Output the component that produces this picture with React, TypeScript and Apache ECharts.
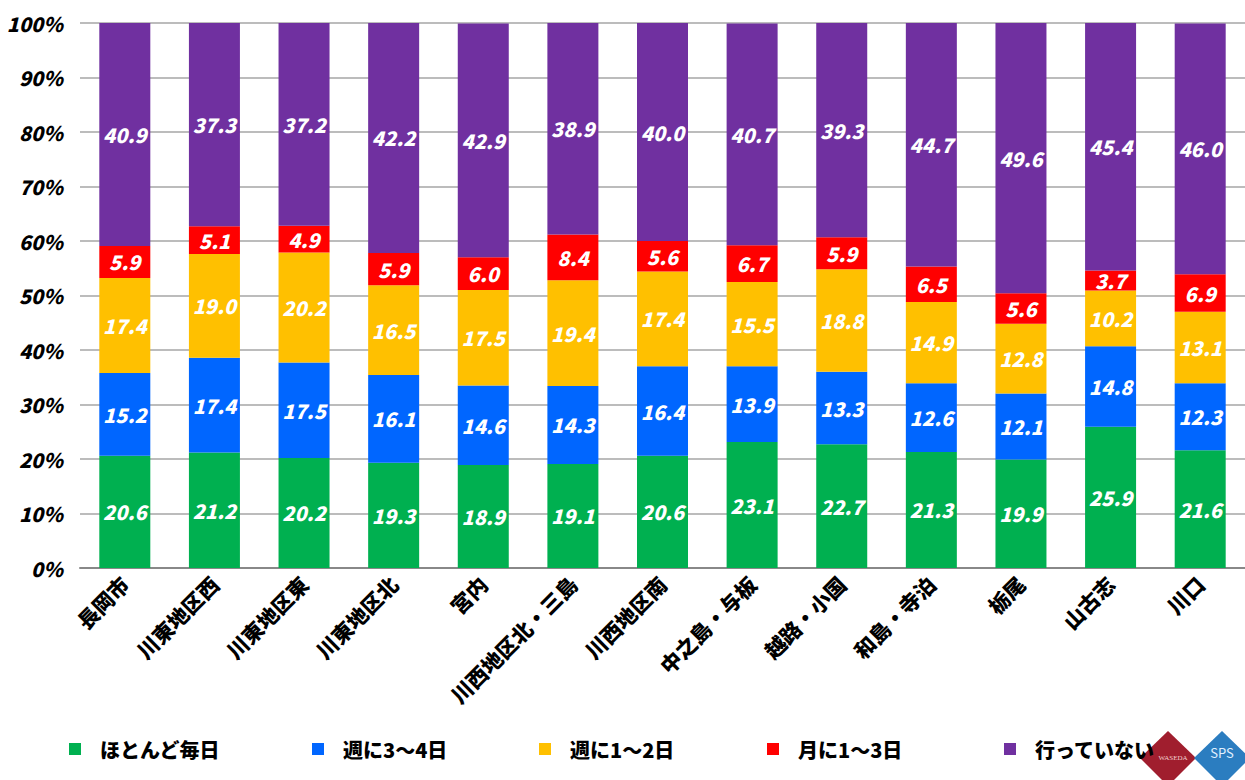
import React, { useEffect, useRef } from "react";
import * as echarts from "echarts";

const categories = [
  "長岡市", "川東地区西", "川東地区東", "川東地区北", "宮内", "川西地区北・三島",
  "川西地区南", "中之島・与板", "越路・小国", "和島・寺泊", "栃尾", "山古志", "川口",
];
const seriesNames = ["ほとんど毎日", "週に3～4日", "週に1～2日", "月に1～3日", "行っていない"];
const daily = [20.6, 21.2, 20.2, 19.3, 18.9, 19.1, 20.6, 23.1, 22.7, 21.3, 19.9, 25.9, 21.6];
const week34 = [15.2, 17.4, 17.5, 16.1, 14.6, 14.3, 16.4, 13.9, 13.3, 12.6, 12.1, 14.8, 12.3];
const week12 = [17.4, 19.0, 20.2, 16.5, 17.5, 19.4, 17.4, 15.5, 18.8, 14.9, 12.8, 10.2, 13.1];
const month13 = [5.9, 5.1, 4.9, 5.9, 6.0, 8.4, 5.6, 6.7, 5.9, 6.5, 5.6, 3.7, 6.9];
const never = [40.9, 37.3, 37.2, 42.2, 42.9, 38.9, 40.0, 40.7, 39.3, 44.7, 49.6, 45.4, 46.0];
const yTicks = { min: 0, max: 100, interval: 10 };

const colors = ["#00B050", "#0066FF", "#FFC000", "#FF0000", "#7030A0"];
const seriesData = [daily, week34, week12, month13, never];
const legendLefts = [64, 307, 534, 762, 999];
const FONT = "'Noto Sans CJK JP', 'Noto Sans', sans-serif";

export default function App() {
  const ref = useRef<HTMLDivElement>(null);
  useEffect(() => {
    document.body.style.margin = "0";
    const chart = echarts.init(ref.current!, null, { renderer: "svg" });
    chart.setOption({
      animation: false,
      textStyle: { fontFamily: FONT },
      grid: { left: 80, right: 0, top: 23, bottom: 212, containLabel: false },
      legend: seriesNames.map((n, i) => ({
        data: [n],
        left: legendLefts[i],
        top: 734,
        icon: "rect",
        itemWidth: 12,
        itemHeight: 12,
        selectedMode: false,
        textStyle: {
          fontFamily: FONT,
          fontSize: 20,
          fontWeight: 900,
          color: "#000",
          padding: [0, 0, 0, 14],
        },
      })),
      xAxis: {
        type: "category",
        data: categories,
        axisLine: { lineStyle: { color: "#888", width: 2 } },
        axisTick: { show: false },
        axisLabel: {
          interval: 0,
          rotate: 45,
          margin: 12,
          fontFamily: FONT,
          fontSize: 21,
          fontWeight: 900,
          color: "#000",
        },
      },
      yAxis: {
        type: "value",
        min: yTicks.min,
        max: yTicks.max,
        interval: yTicks.interval,
        axisLine: { show: false },
        axisTick: { show: false },
        splitLine: { lineStyle: { color: "#A6A6A6", width: 1.5 } },
        axisLabel: {
          formatter: "{value}%",
          margin: 17,
          fontFamily: FONT,
          fontSize: 20,
          fontWeight: 900,
          fontStyle: "italic",
          color: "#000",
        },
      },
      series: seriesNames.map((n, i) => ({
        name: n,
        type: "bar",
        stack: "total",
        barWidth: 51,
        data: seriesData[i],
        itemStyle: { color: colors[i] },
        label: {
          show: true,
          position: "inside",
          formatter: (p: any) => Number(p.value).toFixed(1),
          color: "#fff",
          fontFamily: FONT,
          fontSize: 20,
          fontWeight: 900,
          fontStyle: "italic",
        },
      })),
      graphic: [
        {
          type: "line",
          shape: { x1: 80, y1: 316, x2: 1245, y2: 316 },
          style: { stroke: "#fff", lineWidth: 1 },
          silent: true,
        },
        {
          type: "polygon",
          shape: { points: [[1168, 731], [1196, 758], [1168, 786], [1140, 758]] },
          style: { fill: "#A01E2E" },
        },
        {
          type: "text",
          x: 1173,
          y: 758,
          style: { text: "WASEDA", fill: "#f2d0d0", fontSize: 7, align: "center", verticalAlign: "middle", fontFamily: "serif" },
        },
        {
          type: "polygon",
          shape: { points: [[1222, 731], [1250, 758], [1222, 786], [1194, 758]] },
          style: { fill: "#2B7DC0" },
        },
        {
          type: "text",
          x: 1222,
          y: 752,
          style: { text: "SPS", fill: "#e0f0ff", fontSize: 13, align: "center", verticalAlign: "middle", fontFamily: FONT },
        },
      ],
    });
    return () => chart.dispose();
  }, []);
  return <div ref={ref} style={{ position: "absolute", left: 0, top: 0, width: 1245, height: 780 }} />;
}
